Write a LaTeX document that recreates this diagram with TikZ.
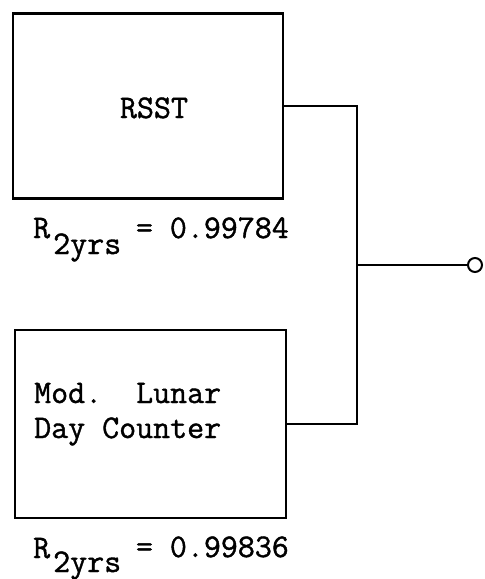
\documentclass[tikz,border=0pt]{standalone}
\usepackage{fontspec}
\usepackage{tikz}
\usetikzlibrary{positioning}
\newfontfamily\typew[FakeBold=1.2]{Latin Modern Mono}
\newcommand{\FT}{\fontsize{33}{40}\selectfont\typew}

\begin{document}
\begin{tikzpicture}[x=1pt,y=-1pt]
\tikzstyle{texto}=[draw=none,fill=none,black,font=\FT,inner sep=0pt]
\tikzstyle{blockbox}=[draw=black,line width=2.2pt,inner sep=0pt]
\tikzstyle{line}=[black,line width=2pt]

\useasboundingbox (0,0) rectangle (485,579);

\node[blockbox,minimum width=270pt,minimum height=185pt] (rsst) at (148,106) {};
\node[texto,anchor=base] (rssttxt) at (154,118) {RSST};

\node[blockbox,minimum width=271pt,minimum height=188pt] (lunar) at (150.5,424) {};
\node[texto,anchor=base west] (lunartxt1) at (34,403) {Mod.\ \ Lunar};
\node[texto,anchor=base west] (lunartxt2) at (34,438) {Day Counter};

% reliability values
\node[texto,anchor=base west] (r1) at (33,238) {R};
\node[texto,anchor=base west] (sub1) at (53,254) {2yrs};
\node[texto,anchor=base east] (val1) at (289,238) {= 0.99784};

\node[texto,anchor=base west] (r2) at (33,558) {R};
\node[texto,anchor=base west] (sub2) at (53,572) {2yrs};
\node[texto,anchor=base east] (val2) at (289,557) {= 0.99836};

\coordinate (jn) at (357,265);
\node[circle,draw=black,line width=2pt,minimum size=14pt,inner sep=0pt] (out) at (475,265) {};

\draw[line] (rsst.east) -| (jn) |- (lunar.east);
\draw[line] (jn) -- (out);
\end{tikzpicture}
\end{document}
